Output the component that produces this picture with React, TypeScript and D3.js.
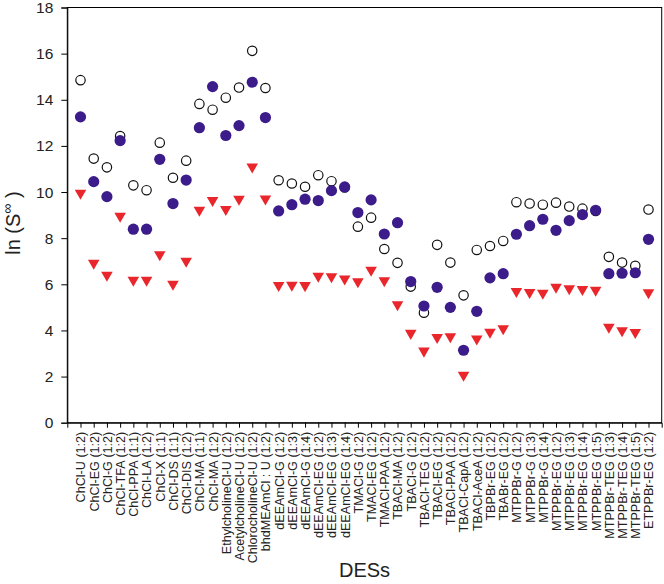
import { useEffect, useRef } from 'react';
import * as d3 from 'd3';

const categories = [
  'ChCl-U (1:2)', 'ChCl-EG (1:2)', 'ChCl-G (1:2)', 'ChCl-TFA (1:2)', 'ChCl-PPA (1:1)',
  'ChCl-LA (1:2)', 'ChCl-X (1:1)', 'ChCl-DS (1:1)', 'ChCl-DIS (1:2)', 'ChCl-MA (1:1)',
  'ChCl-MA (1:2)', 'EthylcholineCl-U (1:2)', 'AcetylcholineCl-U (1:2)', 'ChlorocholineCl-U (1:2)',
  'bhdMEAmCl : U (1:2)', 'dEEAmCl-G (1:2)', 'dEEAmCl-G (1:3)', 'dEEAmCl-G (1:4)',
  'dEEAmCl-EG (1:2)', 'dEEAmCl-EG (1:3)', 'dEEAmCl-EG (1:4)', 'TMACl-G (1:2)', 'TMACl-EG (1:2)',
  'TMACl-PAA (1:2)', 'TBACl-MA (1:2)', 'TBACl-G (1:2)', 'TBACl-TEG (1:2)', 'TBACl-EG (1:2)',
  'TBACl-PAA (1:2)', 'TBACl-CapA (1:2)', 'TBACl-AceA (1:2)', 'TBPBr-EG (1:2)', 'TBABr-EG (1:2)',
  'MTPPBr-G (1:2)', 'MTPPBr-G (1:3)', 'MTPPBr-G (1:4)', 'MTPPBr-EG (1:2)', 'MTPPBr-EG (1:3)',
  'MTPPBr-EG (1:4)', 'MTPPBr-EG (1:5)', 'MTPPBr-TEG (1:3)', 'MTPPBr-TEG (1:4)', 'MTPPBr-TEG (1:5)',
  'ETPPBr-EG (1:2)',
];

// open circles
const openValues = [
  14.85, 11.45, 11.07, 12.43, 10.29, 10.08, 12.14, 10.62, 11.36, 13.82, 13.57, 14.09, 14.53, 16.12,
  14.51, 10.51, 10.37, 10.23, 10.73, 10.47, 10.2, 8.5, 8.89, 7.53, 6.93, 5.9, 4.77, 7.71, 6.94,
  5.52, 7.49, 7.66, 7.88, 9.56, 9.5, 9.45, 9.54, 9.37, 9.28, 9.18, 7.19, 6.94, 6.8, 9.24,
];

// filled circles
const filledValues = [
  13.26, 10.45, 9.8, 12.23, 8.39, 8.39, 11.42, 9.5, 10.52, 12.79, 14.57, 12.45, 12.88, 14.76,
  13.23, 9.18, 9.45, 9.69, 9.63, 10.06, 10.22, 9.11, 9.66, 8.18, 8.67, 6.12, 5.06, 5.87, 5.0,
  3.14, 4.83, 6.28, 6.46, 8.17, 8.54, 8.82, 8.34, 8.76, 9.02, 9.21, 6.46, 6.48, 6.5, 7.95,
];

// red down triangles
const triValues = [
  9.95, 6.92, 6.4, 8.96, 6.18, 6.18, 7.29, 6.01, 7.01, 9.22, 9.64, 9.25, 9.69, 11.09, 9.71,
  5.96, 5.97, 5.95, 6.36, 6.33, 6.24, 6.12, 6.62, 6.16, 5.12, 3.88, 3.11, 3.7, 3.73, 2.06, 3.64,
  3.93, 4.08, 5.7, 5.65, 5.62, 5.88, 5.81, 5.78, 5.75, 4.15, 3.99, 3.92, 5.64,
];

const yTicks = [0, 2, 4, 6, 8, 10, 12, 14, 16, 18];

const W = 664;
const H = 584;
const FONT = "Arial, 'Liberation Sans', sans-serif";

export default function App() {
  const ref = useRef<SVGSVGElement>(null);

  useEffect(() => {
    if (!ref.current) return;
    const svg = d3.select(ref.current);
    svg.selectAll('*').remove();

    const margin = { top: 7.5, right: 2.3, bottom: 161.3, left: 67.3 };
    const innerW = W - margin.left - margin.right;
    const innerH = H - margin.top - margin.bottom;

    const g = svg.append('g').attr('transform', `translate(${margin.left},${margin.top})`);

    const x = d3.scalePoint<string>().domain(categories).range([0, innerW]).padding(1);
    const y = d3.scaleLinear().domain([0, 18]).range([innerH, 0]);

    // frame
    g.append('rect')
      .attr('width', innerW)
      .attr('height', innerH)
      .attr('fill', 'none')
      .attr('stroke', '#000')
      .attr('stroke-width', 1);

    const yAxis = g
      .append('g')
      .call(d3.axisLeft(y).tickValues(yTicks).tickSize(6).tickPadding(8));
    yAxis.selectAll('text').attr('font-size', '15.5px').attr('font-family', FONT).attr('fill', '#222');
    yAxis.select('.domain').attr('stroke', '#000');

    const xAxis = g
      .append('g')
      .attr('transform', `translate(0,${innerH})`)
      .call(d3.axisBottom(x).tickSize(5).tickPadding(4));
    xAxis.select('.domain').attr('stroke', '#000');
    xAxis
      .selectAll('text')
      .attr('font-size', '12.6px')
      .attr('font-family', FONT)
      .attr('fill', '#222')
      .attr('text-anchor', 'end')
      .attr('dy', '0.35em')
      .attr('transform', 'rotate(-90)')
      .attr('x', -9)
      .attr('y', 0);

    const marks = g.append('g');

    // triangles
    const tri = d3.symbol().type(d3.symbolTriangle).size(58);
    marks
      .selectAll('path.tri')
      .data(triValues)
      .join('path')
      .attr('class', 'tri')
      .attr('d', tri)
      .attr('transform', (d, i) => `translate(${x(categories[i])},${y(d)}) rotate(180)`)
      .attr('fill', '#e8262b');

    marks
      .selectAll('circle.open')
      .data(openValues)
      .join('circle')
      .attr('class', 'open')
      .attr('cx', (_, i) => x(categories[i]) as number)
      .attr('cy', (d) => y(d))
      .attr('r', 4.7)
      .attr('fill', '#fff')
      .attr('stroke', '#111')
      .attr('stroke-width', 1.2);

    marks
      .selectAll('circle.filled')
      .data(filledValues)
      .join('circle')
      .attr('class', 'filled')
      .attr('cx', (_, i) => x(categories[i]) as number)
      .attr('cy', (d) => y(d))
      .attr('r', 5.6)
      .attr('fill', '#3b1c8a');

    // axis titles
    const yt = svg
      .append('text')
      .attr('transform', `translate(20,${margin.top + innerH / 2 + 8}) rotate(-90)`)
      .attr('text-anchor', 'middle')
      .attr('font-family', FONT)
      .attr('font-size', '20px')
      .attr('fill', '#222');
    yt.append('tspan').text('ln (S');
    yt.append('tspan').attr('font-size', '14px').attr('dy', '-0.6em').text('∞');
    yt.append('tspan').attr('dy', '0.42em').text(' )');

    svg
      .append('text')
      .attr('x', margin.left + innerW / 2)
      .attr('y', 577)
      .attr('text-anchor', 'middle')
      .attr('font-family', FONT)
      .attr('font-size', '20px')
      .attr('fill', '#222')
      .text('DESs');
  }, []);

  return (
    <svg
      ref={ref}
      width={W}
      height={H}
      style={{ position: 'absolute', left: 0, top: 0, background: '#fff' }}
    />
  );
}
